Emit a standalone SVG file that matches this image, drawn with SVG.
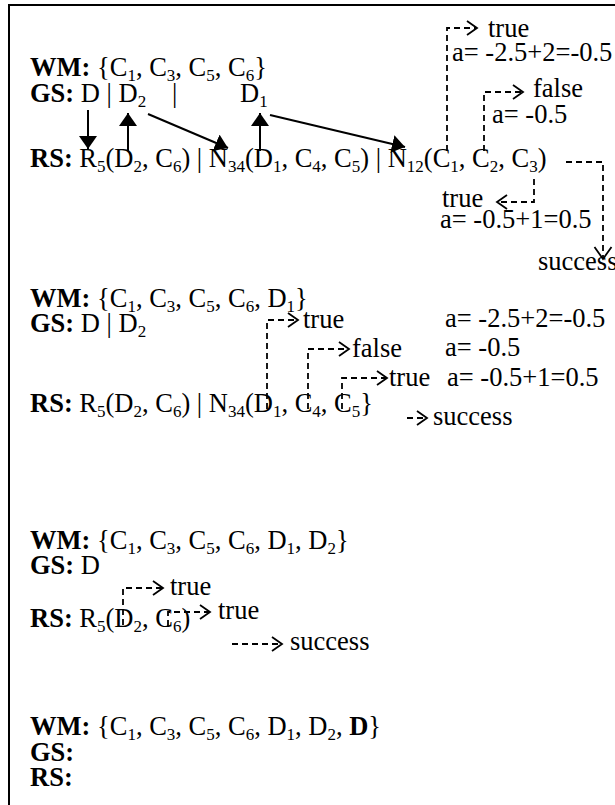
<svg xmlns="http://www.w3.org/2000/svg" width="615" height="805" viewBox="0 0 615 805">
<style>
text { font-family: "Liberation Serif", "Times New Roman", serif; font-size: 26.5px; fill: #000; }
.b { font-weight: bold; }
.s { font-size: 17px; }
.solid { stroke: #000; stroke-width: 2; fill: none; marker-end: url(#head); }
.dash { stroke: #000; stroke-width: 1.8; fill: none; stroke-dasharray: 6 4; marker-end: url(#chev); }
.dashv { stroke: #000; stroke-width: 1.8; fill: none; stroke-dasharray: 6 4; marker-end: url(#chevBig); }
</style>
<defs>
<marker id="head" viewBox="0 0 13 18" refX="13" refY="9" markerWidth="13" markerHeight="18" markerUnits="userSpaceOnUse" orient="auto"><path d="M0,0 L13,9 L0,18 z" fill="#000"/></marker>
<marker id="chev" viewBox="-2 -2 14 18" refX="10" refY="7" markerWidth="14" markerHeight="18" markerUnits="userSpaceOnUse" orient="auto"><path d="M0,0 L10,7 L0,14" fill="none" stroke="#000" stroke-width="1.8"/></marker>
<marker id="chevBig" viewBox="-2 -2 16 21" refX="12" refY="8.5" markerWidth="16" markerHeight="21" markerUnits="userSpaceOnUse" orient="auto"><path d="M0,0 L12,8.5 L0,17" fill="none" stroke="#000" stroke-width="1.8"/></marker>
</defs>
<rect x="9" y="5" width="700" height="900" fill="#fff" stroke="#000" stroke-width="2"/>

<g id="block1">
<text x="30" y="76"><tspan class="b">WM:</tspan> {C<tspan class="s" dy="5">1</tspan><tspan dy="-5">, C</tspan><tspan class="s" dy="5">3</tspan><tspan dy="-5">, C</tspan><tspan class="s" dy="5">5</tspan><tspan dy="-5">, C</tspan><tspan class="s" dy="5">6</tspan><tspan dy="-5">}</tspan></text>
<text x="30" y="102"><tspan class="b">GS:</tspan> D | D<tspan class="s" dy="5">2</tspan></text>
<text x="172" y="102">|</text>
<text x="240" y="102">D<tspan class="s" dy="5">1</tspan></text>
<text x="30" y="167"><tspan class="b">RS:</tspan> R<tspan class="s" dy="5">5</tspan><tspan dy="-5">(D</tspan><tspan class="s" dy="5">2</tspan><tspan dy="-5">, C</tspan><tspan class="s" dy="5">6</tspan><tspan dy="-5">) | N</tspan><tspan class="s" dy="5">34</tspan><tspan dy="-5">(D</tspan><tspan class="s" dy="5">1</tspan><tspan dy="-5">, C</tspan><tspan class="s" dy="5">4</tspan><tspan dy="-5">, C</tspan><tspan class="s" dy="5">5</tspan><tspan dy="-5">) | N</tspan><tspan class="s" dy="5">12</tspan><tspan dy="-5">(C</tspan><tspan class="s" dy="5">1</tspan><tspan dy="-5">, C</tspan><tspan class="s" dy="5">2</tspan><tspan dy="-5">, C</tspan><tspan class="s" dy="5">3</tspan><tspan dy="-5">)</tspan></text>
<text x="488" y="37">true</text>
<text x="452" y="61">a= -2.5+2=-0.5</text>
<text x="533" y="97">false</text>
<text x="492" y="123">a= -0.5</text>
<text x="442" y="207">true</text>
<text x="440" y="228">a= -0.5+1=0.5</text>
<text x="538" y="270">success</text>
</g>

<g id="block2">
<text x="30" y="307"><tspan class="b">WM:</tspan> {C<tspan class="s" dy="5">1</tspan><tspan dy="-5">, C</tspan><tspan class="s" dy="5">3</tspan><tspan dy="-5">, C</tspan><tspan class="s" dy="5">5</tspan><tspan dy="-5">, C</tspan><tspan class="s" dy="5">6</tspan><tspan dy="-5">, D</tspan><tspan class="s" dy="5">1</tspan><tspan dy="-5">}</tspan></text>
<text x="30" y="332"><tspan class="b">GS:</tspan> D | D<tspan class="s" dy="5">2</tspan></text>
<text x="30" y="412"><tspan class="b">RS:</tspan> R<tspan class="s" dy="5">5</tspan><tspan dy="-5">(D</tspan><tspan class="s" dy="5">2</tspan><tspan dy="-5">, C</tspan><tspan class="s" dy="5">6</tspan><tspan dy="-5">) | N</tspan><tspan class="s" dy="5">34</tspan><tspan dy="-5">(D</tspan><tspan class="s" dy="5">1</tspan><tspan dy="-5">, C</tspan><tspan class="s" dy="5">4</tspan><tspan dy="-5">, C</tspan><tspan class="s" dy="5">5</tspan><tspan dy="-5">}</tspan></text>
<text x="303" y="328">true</text>
<text x="352" y="357">false</text>
<text x="389" y="386">true</text>
<text x="445" y="327">a= -2.5+2=-0.5</text>
<text x="445" y="356">a= -0.5</text>
<text x="447" y="386">a= -0.5+1=0.5</text>
<text x="433" y="425">success</text>
</g>

<g id="block3">
<text x="30" y="549"><tspan class="b">WM:</tspan> {C<tspan class="s" dy="5">1</tspan><tspan dy="-5">, C</tspan><tspan class="s" dy="5">3</tspan><tspan dy="-5">, C</tspan><tspan class="s" dy="5">5</tspan><tspan dy="-5">, C</tspan><tspan class="s" dy="5">6</tspan><tspan dy="-5">, D</tspan><tspan class="s" dy="5">1</tspan><tspan dy="-5">, D</tspan><tspan class="s" dy="5">2</tspan><tspan dy="-5">}</tspan></text>
<text x="30" y="574"><tspan class="b">GS:</tspan> D</text>
<text x="30" y="627"><tspan class="b">RS:</tspan> R<tspan class="s" dy="5">5</tspan><tspan dy="-5">(D</tspan><tspan class="s" dy="5">2</tspan><tspan dy="-5">, C</tspan><tspan class="s" dy="5">6</tspan><tspan dy="-5">)</tspan></text>
<text x="170" y="595">true</text>
<text x="218" y="619">true</text>
<text x="290" y="650">success</text>
</g>

<g id="block4">
<text x="30" y="735"><tspan class="b">WM:</tspan> {C<tspan class="s" dy="5">1</tspan><tspan dy="-5">, C</tspan><tspan class="s" dy="5">3</tspan><tspan dy="-5">, C</tspan><tspan class="s" dy="5">5</tspan><tspan dy="-5">, C</tspan><tspan class="s" dy="5">6</tspan><tspan dy="-5">, D</tspan><tspan class="s" dy="5">1</tspan><tspan dy="-5">, D</tspan><tspan class="s" dy="5">2</tspan><tspan dy="-5">, </tspan><tspan class="b">D</tspan>}</text>
<text x="30" y="761" class="b">GS:</text>
<text x="30" y="786" class="b">RS:</text>
</g>

<g id="connectors">
<line class="solid" x1="88" y1="110" x2="88" y2="149"/>
<line class="solid" x1="128" y1="151" x2="128" y2="113"/>
<line class="solid" x1="148" y1="114" x2="228" y2="148"/>
<line class="solid" x1="260" y1="151" x2="260" y2="113"/>
<line class="solid" x1="270" y1="115" x2="405" y2="147"/>
<path class="dash" d="M447,151 V28 H477"/>
<path class="dash" d="M484,151 V92 H523"/>
<path class="dash" d="M534,179 V202 H497"/>
<path class="dashv" d="M566,162 H603 V259"/>
<path class="dash" d="M267,409 V320 H298"/>
<path class="dash" d="M308,409 V349 H349"/>
<path class="dash" d="M342,409 V378 H387"/>
<path class="dash" d="M407,418 H427"/>
<path class="dash" d="M123,625 V588 H163"/>
<path class="dash" d="M168,626 V612 H210"/>
<path class="dash" d="M232,644 H282"/>
</g>
</svg>
